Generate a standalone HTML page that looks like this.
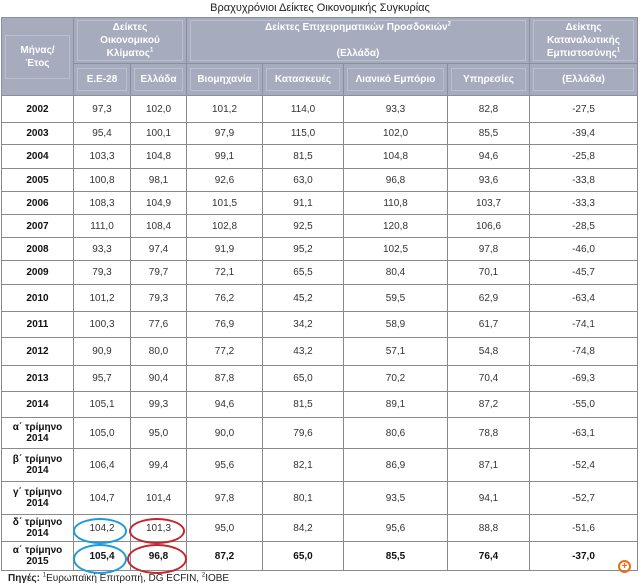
<!DOCTYPE html>
<html><head><meta charset="utf-8"><style>
body{margin:0;background:#fff;width:640px;height:587px;overflow:hidden;font-family:"Liberation Sans","DejaVu Sans",sans-serif;position:relative}
.title{position:absolute;top:2px;left:0;width:640px;text-align:center;font-size:11px;color:#222}
table{position:absolute;left:1px;top:17px;border-collapse:collapse;table-layout:fixed;width:636px}
td{border:1px solid #8a8a8a;text-align:center;font-size:10px;color:#333;padding:0;overflow:hidden;line-height:11px}
td:first-child{font-weight:bold;color:#111}
th{background:#a6abbd;color:#fff;font-size:10px;font-weight:bold;border:1px solid #8a8f9f;padding:0;line-height:13px;overflow:hidden}
th span{display:block;border:1px solid #bcc0ce;margin:2px 3px;padding:0}
.b td{font-weight:bold;color:#111}
.src{position:absolute;left:8px;top:573px;font-size:10px;color:#222}
.ov{position:absolute;border-radius:50%;border:2px solid}
sup{font-size:6px;line-height:0}
</style></head><body>
<div class="title">Βραχυχρόνιοι Δείκτες Οικονομικής Συγκυρίας</div>
<table>
<colgroup><col style="width:72px"><col style="width:57px"><col style="width:56px"><col style="width:76px"><col style="width:81px"><col style="width:104px"><col style="width:82px"><col style="width:108px"></colgroup>
<tr style="height:46px"><th rowspan="2"><span style="padding:8px 0">Μήνας/<br>Έτος</span></th><th colspan="2"><span>Δείκτες<br>Οικονομικού<br>Κλίματος<sup>1</sup></span></th><th colspan="4"><span style="padding:0">Δείκτες Επιχειρηματικών Προσδοκιών<sup>2</sup><br><br>(Ελλάδα)</span></th><th><span>Δείκτης<br>Καταναλωτικής<br>Εμπιστοσύνης<sup>1</sup></span></th></tr>
<tr style="height:32px"><th><span style="padding:4px 0">Ε.Ε-28</span></th><th><span style="padding:4px 0">Ελλάδα</span></th><th><span style="padding:4px 0">Βιομηχανία</span></th><th><span style="padding:4px 0">Κατασκευές</span></th><th><span style="padding:4px 0">Λιανικό Εμπόριο</span></th><th><span style="padding:4px 0">Υπηρεσίες</span></th><th><span style="padding:4px 0">(Ελλάδα)</span></th></tr>
<tr style="height:27px"><td>2002</td><td>97,3</td><td>102,0</td><td>101,2</td><td>114,0</td><td>93,3</td><td>82,8</td><td>-27,5</td></tr>
<tr style="height:22px"><td>2003</td><td>95,4</td><td>100,1</td><td>97,9</td><td>115,0</td><td>102,0</td><td>85,5</td><td>-39,4</td></tr>
<tr style="height:24px"><td>2004</td><td>103,3</td><td>104,8</td><td>99,1</td><td>81,5</td><td>104,8</td><td>94,6</td><td>-25,8</td></tr>
<tr style="height:23px"><td>2005</td><td>100,8</td><td>98,1</td><td>92,6</td><td>63,0</td><td>96,8</td><td>93,6</td><td>-33,8</td></tr>
<tr style="height:23px"><td>2006</td><td>108,3</td><td>104,9</td><td>101,5</td><td>91,1</td><td>110,8</td><td>103,7</td><td>-33,3</td></tr>
<tr style="height:23px"><td>2007</td><td>111,0</td><td>108,4</td><td>102,8</td><td>92,5</td><td>120,8</td><td>106,6</td><td>-28,5</td></tr>
<tr style="height:23px"><td>2008</td><td>93,3</td><td>97,4</td><td>91,9</td><td>95,2</td><td>102,5</td><td>97,8</td><td>-46,0</td></tr>
<tr style="height:24px"><td>2009</td><td>79,3</td><td>79,7</td><td>72,1</td><td>65,5</td><td>80,4</td><td>70,1</td><td>-45,7</td></tr>
<tr style="height:27px"><td>2010</td><td>101,2</td><td>79,3</td><td>76,2</td><td>45,2</td><td>59,5</td><td>62,9</td><td>-63,4</td></tr>
<tr style="height:26px"><td>2011</td><td>100,3</td><td>77,6</td><td>76,9</td><td>34,2</td><td>58,9</td><td>61,7</td><td>-74,1</td></tr>
<tr style="height:28px"><td>2012</td><td>90,9</td><td>80,0</td><td>77,2</td><td>43,2</td><td>57,1</td><td>54,8</td><td>-74,8</td></tr>
<tr style="height:26px"><td>2013</td><td>95,7</td><td>90,4</td><td>87,8</td><td>65,0</td><td>70,2</td><td>70,4</td><td>-69,3</td></tr>
<tr style="height:26px"><td>2014</td><td>105,1</td><td>99,3</td><td>94,6</td><td>81,5</td><td>89,1</td><td>87,2</td><td>-55,0</td></tr>
<tr style="height:31px"><td>α΄ τρίμηνο<br>2014</td><td>105,0</td><td>95,0</td><td>90,0</td><td>79,6</td><td>80,6</td><td>78,8</td><td>-63,1</td></tr>
<tr style="height:33px"><td>β΄ τρίμηνο<br>2014</td><td>106,4</td><td>99,4</td><td>95,6</td><td>82,1</td><td>86,9</td><td>87,1</td><td>-52,4</td></tr>
<tr style="height:33px"><td>γ΄ τρίμηνο<br>2014</td><td>104,7</td><td>101,4</td><td>97,8</td><td>80,1</td><td>93,5</td><td>94,1</td><td>-52,7</td></tr>
<tr style="height:27px"><td>δ΄ τρίμηνο<br>2014</td><td>104,2</td><td>101,3</td><td>95,0</td><td>84,2</td><td>95,6</td><td>88,8</td><td>-51,6</td></tr>
<tr class="b" style="height:29px"><td>α΄ τρίμηνο<br>2015</td><td>105,4</td><td>96,8</td><td>87,2</td><td>65,0</td><td>85,5</td><td>76,4</td><td>-37,0</td></tr>
</table>
<div class="ov" style="left:73px;top:518px;width:50px;height:22px;border-color:#1e9bd7"></div>
<div class="ov" style="left:129px;top:518px;width:52px;height:22px;border-color:#c0282e"></div>
<div class="ov" style="left:73px;top:544px;width:50px;height:26px;border-color:#1e9bd7"></div>
<div class="ov" style="left:127px;top:544px;width:56px;height:26px;border-color:#c0282e"></div>
<div class="src"><b>Πηγές:</b> <sup>1</sup>Ευρωπαϊκή Επιτροπή, DG ECFIN, <sup>2</sup>ΙΟΒΕ</div>
<div style="position:absolute;left:618px;top:560px;width:9px;height:9px;border:2px solid #e8701a;border-radius:50%;color:#e8701a;font-size:10px;line-height:9px;text-align:center;font-weight:bold">+</div>
</body></html>
